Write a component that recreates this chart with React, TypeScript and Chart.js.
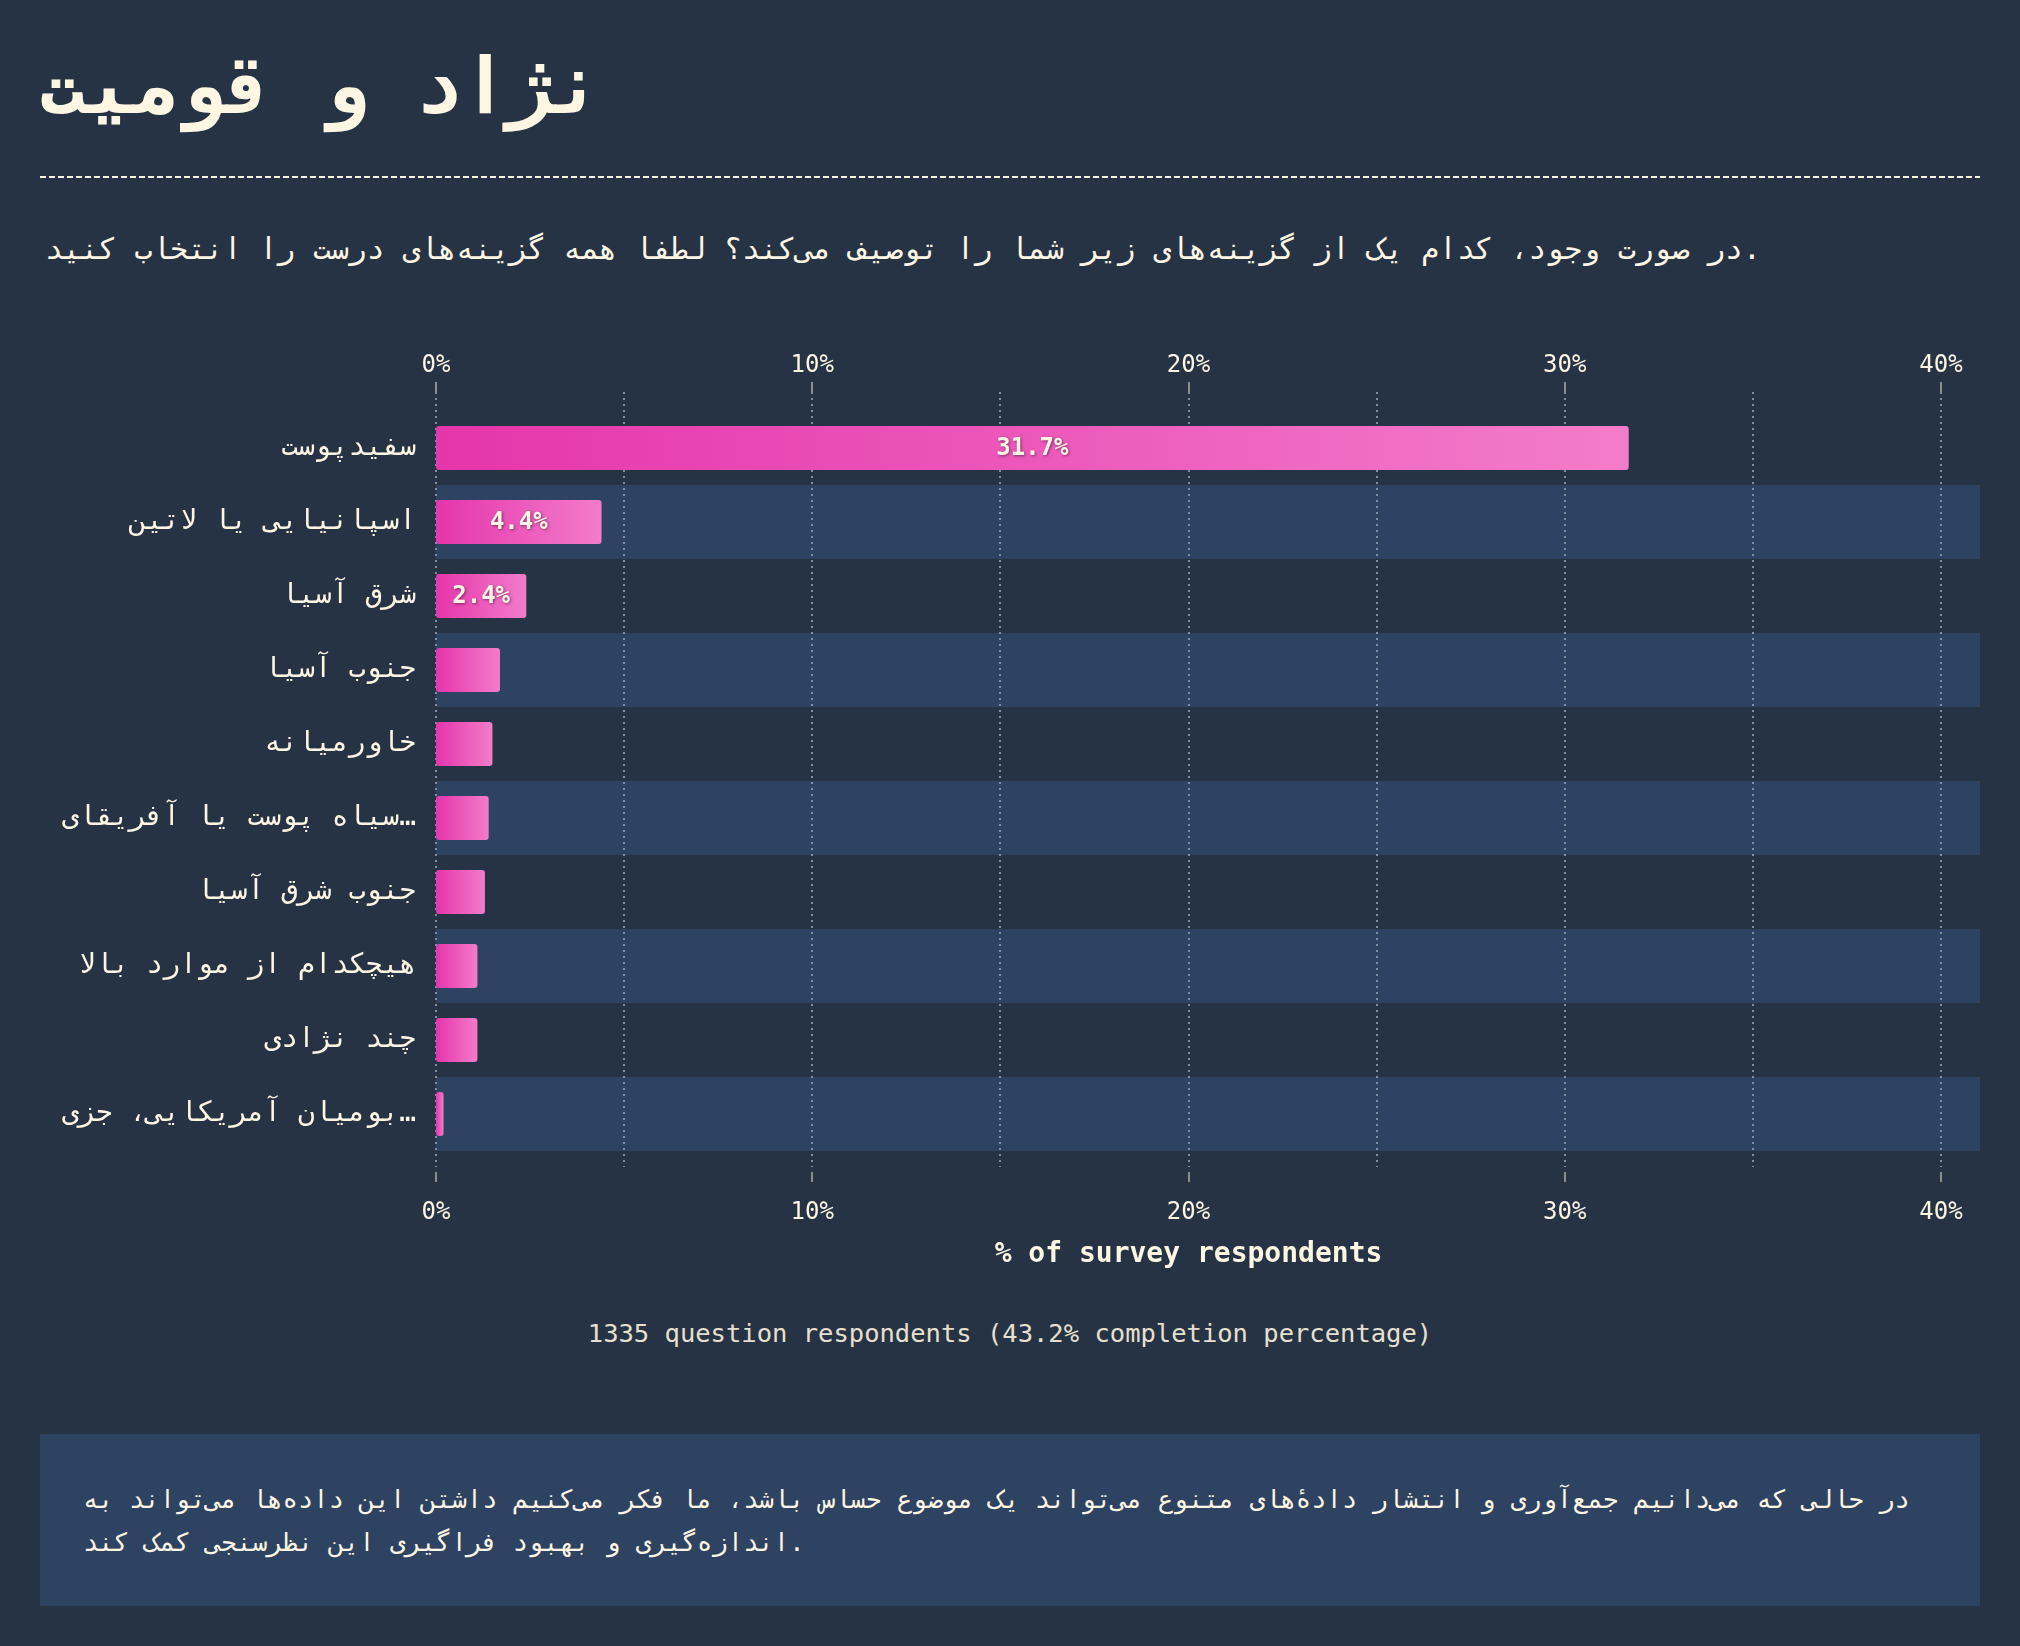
import React, { useEffect, useRef } from 'react';
import { Chart, registerables } from 'chart.js';

Chart.register(...registerables);

const categories: string[] = [
  'سفیدپوست',
  'اسپانیایی یا لاتین',
  'شرق آسیا',
  'جنوب آسیا',
  'خاورمیانه',
  'سیاه پوست یا آفریقای…',
  'جنوب شرق آسیا',
  'هیچکدام از موارد بالا',
  'چند نژادی',
  'بومیان آمریکایی، جزی…',
];
const values: number[] = [31.7, 4.4, 2.4, 1.7, 1.5, 1.4, 1.3, 1.1, 1.1, 0.2];
const tickValues: number[] = [0, 10, 20, 30, 40];
const gridValues: number[] = [0, 5, 10, 15, 20, 25, 30, 35, 40];

const titleText = 'نژاد و قومیت';
const subtitleText =
  'در صورت وجود، کدام یک از گزینه‌های زیر شما را توصیف می‌کند؟ لطفا همه گزینه‌های درست را انتخاب کنید.';
const axisTitle = '% of survey respondents';
const captionText = '1335 question respondents (43.2% completion percentage)';
const noteText =
  'در حالی که می‌دانیم جمع‌آوری و انتشار دادهٔ‌های متنوع می‌تواند یک موضوع حساس باشد، ما فکر می‌کنیم داشتن این داده‌ها می‌تواند به اندازه‌گیری و بهبود فراگیری این نظرسنجی کمک کند.';

const BG = '#263345';
const BAND = '#2e4262';
const TEXT = '#fdf6e3';
const GRID = '#838da0';
const TICK = '#8c8c8c';
const BAR_START = '#e535ab';
const BAR_END = '#f37cca';
const FONT = '"DejaVu Sans Mono", monospace';

const decorPlugin = {
  id: 'decor',
  beforeDatasetsDraw(chart: any) {
    const { ctx, chartArea, scales } = chart;
    const y = scales.y;
    const x = scales.x;
    ctx.save();
    const step = y.getPixelForValue(1) - y.getPixelForValue(0);
    ctx.fillStyle = BAND;
    categories.forEach((_, i) => {
      if (i % 2 === 1) {
        const c = y.getPixelForValue(i);
        ctx.fillRect(chartArea.left, c - step / 2, chart.width - chartArea.left, step);
      }
    });
    ctx.strokeStyle = GRID;
    ctx.lineWidth = 2;
    ctx.setLineDash([2, 4]);
    gridValues.forEach((v) => {
      const px = Math.round(x.getPixelForValue(v));
      ctx.beginPath();
      ctx.moveTo(px, chartArea.top - 19);
      ctx.lineTo(px, chartArea.bottom + 16);
      ctx.stroke();
    });
    ctx.setLineDash([]);
    ctx.strokeStyle = TICK;
    tickValues.forEach((v) => {
      const px = Math.round(x.getPixelForValue(v));
      ctx.beginPath();
      ctx.moveTo(px, chartArea.top - 29);
      ctx.lineTo(px, chartArea.top - 18);
      ctx.moveTo(px, chartArea.bottom + 21);
      ctx.lineTo(px, chartArea.bottom + 31);
      ctx.stroke();
    });
    ctx.restore();
  },
};

const labelPlugin = {
  id: 'barLabels',
  afterDatasetsDraw(chart: any) {
    const { ctx } = chart;
    const meta = chart.getDatasetMeta(0);
    ctx.save();
    ctx.font = `bold 24px ${FONT}`;
    ctx.textAlign = 'center';
    ctx.textBaseline = 'middle';
    meta.data.forEach((bar: any, i: number) => {
      const { x, y, base } = bar.getProps(['x', 'y', 'base'], true);
      const w = x - base;
      const text = values[i].toFixed(1) + '%';
      const tw = ctx.measureText(text).width;
      if (tw + 24 > w) return;
      ctx.shadowColor = 'rgba(0,0,0,0.45)';
      ctx.shadowBlur = 3;
      ctx.shadowOffsetX = 1;
      ctx.shadowOffsetY = 1;
      ctx.fillStyle = TEXT;
      ctx.fillText(text, (x + base) / 2, y + 1);
    });
    ctx.restore();
  },
};

export default function App() {
  const canvasRef = useRef<HTMLCanvasElement | null>(null);

  useEffect(() => {
    document.body.style.margin = '0';
    document.body.style.background = BG;
    const canvas = canvasRef.current;
    if (!canvas) return;
    const tickFont = { family: FONT, size: 24 };
    const chart = new Chart(canvas, {
      type: 'bar',
      data: {
        labels: categories,
        datasets: [
          {
            data: values,
            backgroundColor: (c: any) => {
              const ch = c.chart;
              const xs = ch.scales && ch.scales.x;
              if (!xs || c.dataIndex == null) return BAR_START;
              const x0 = xs.getPixelForValue(0);
              const x1 = xs.getPixelForValue(values[c.dataIndex]);
              if (!Number.isFinite(x0) || !Number.isFinite(x1)) return BAR_START;
              const g = ch.ctx.createLinearGradient(x0, 0, Math.max(x1, x0 + 1), 0);
              g.addColorStop(0, BAR_START);
              g.addColorStop(1, BAR_END);
              return g;
            },
            borderRadius: 3,
            borderSkipped: false,
            barPercentage: 0.595,
            categoryPercentage: 1,
          },
        ],
      },
      options: {
        indexAxis: 'y',
        animation: false,
        responsive: false,
        maintainAspectRatio: false,
        layout: { padding: { left: 0, right: 39, top: 0, bottom: 0 } },
        plugins: {
          legend: { display: false },
          tooltip: { enabled: false },
        },
        scales: {
          x: {
            type: 'linear',
            position: 'bottom',
            min: 0,
            max: 40,
            grid: { display: false, drawTicks: false },
            border: { display: false },
            ticks: {
              stepSize: 10,
              callback: (v: any) => v + '%',
              font: tickFont,
              color: TEXT,
              padding: 47,
              maxRotation: 0,
            },
            title: {
              display: true,
              text: axisTitle,
              color: TEXT,
              font: { family: FONT, size: 28, weight: 'bold' },
              padding: { top: 0, bottom: 18 },
            },
            afterFit: (s: any) => {
              s.height = 139;
              s.paddingLeft = 0;
              s.paddingRight = 0;
            },
          },
          x2: {
            type: 'linear',
            axis: 'x',
            position: 'top',
            min: 0,
            max: 40,
            grid: { display: false, drawTicks: false },
            border: { display: false },
            ticks: {
              stepSize: 10,
              callback: (v: any) => v + '%',
              font: tickFont,
              color: TEXT,
              padding: 31,
              maxRotation: 0,
            },
            afterFit: (s: any) => {
              s.height = 81;
              s.paddingLeft = 0;
              s.paddingRight = 0;
            },
          },
          y: {
            grid: { display: false, drawTicks: false },
            border: { display: false },
            ticks: {
              font: { family: FONT, size: 28 },
              color: TEXT,
              padding: 20,
            },
            afterFit: (s: any) => {
              s.width = 396;
            },
          },
        },
      } as any,
      plugins: [decorPlugin, labelPlugin],
    });
    return () => chart.destroy();
  }, []);

  return (
    <div
      style={{
        position: 'absolute',
        left: 0,
        top: 0,
        width: 2020,
        height: 1646,
        background: BG,
        color: TEXT,
        fontFamily: FONT,
        overflow: 'hidden',
      }}
    >
      <div
        style={{
          position: 'absolute',
          left: 39,
          top: 47,
          fontSize: 78,
          fontWeight: 'bold',
          lineHeight: 1,
          whiteSpace: 'nowrap',
        }}
      >
        {titleText}
      </div>
      <div
        style={{
          position: 'absolute',
          left: 40,
          top: 176,
          width: 1940,
          height: 2,
          background: `repeating-linear-gradient(90deg, ${TEXT} 0px, ${TEXT} 6px, transparent 6px, transparent 9px)`,
        }}
      />
      <div
        style={{
          position: 'absolute',
          left: 45,
          top: 234,
          fontSize: 29.7,
          lineHeight: 1,
          whiteSpace: 'nowrap',
        }}
      >
        {subtitleText}
      </div>
      <canvas
        ref={canvasRef}
        width={1940}
        height={960}
        style={{ position: 'absolute', left: 40, top: 330, width: 1940, height: 960 }}
      />
      <div
        style={{
          position: 'absolute',
          left: 40,
          width: 1940,
          top: 1318,
          fontSize: 25.5,
          lineHeight: '30px',
          textAlign: 'center',
          color: '#e8e0cf',
          whiteSpace: 'nowrap',
        }}
      >
        {captionText}
      </div>
      <div
        style={{
          position: 'absolute',
          left: 40,
          top: 1434,
          width: 1940,
          height: 172,
          background: BAND,
          boxSizing: 'border-box',
          padding: '44px 43px 0 43px',
          fontSize: 25.5,
          lineHeight: '43px',
        }}
      >
        {noteText}
      </div>
    </div>
  );
}
